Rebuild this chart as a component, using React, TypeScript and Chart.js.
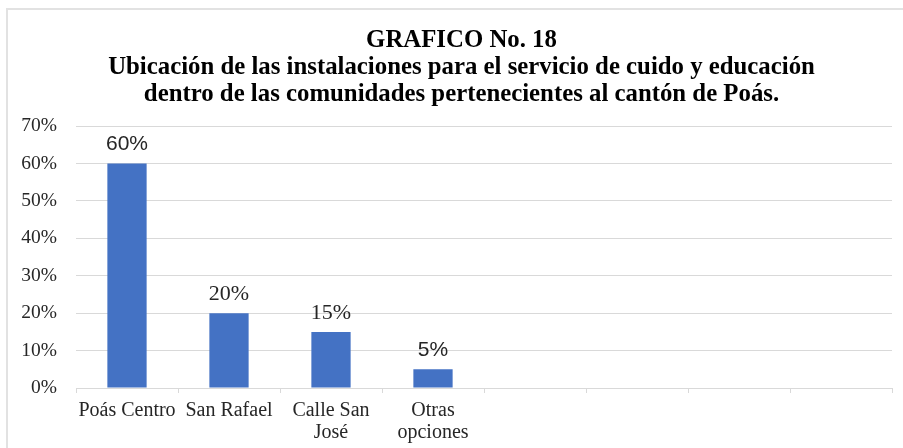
import React, { useEffect, useRef } from "react";
import { Chart, registerables } from "chart.js";

Chart.register(...registerables);

const titleLines = [
  "GRAFICO No. 18",
  "Ubicación de las instalaciones para el servicio de cuido y educación",
  "dentro de las comunidades pertenecientes al cantón de Poás.",
];
const categories: (string | string[])[] = [
  "Poás Centro",
  "San Rafael",
  ["Calle San", "José"],
  ["Otras", "opciones"],
  "",
  "",
  "",
  "",
];
const values: (number | null)[] = [60, 20, 15, 5, null, null, null, null];
const yMin = 0;
const yMax = 70;
const yStep = 10;
const labelFonts = [
  '21px "Liberation Sans"',
  '22px "Liberation Serif"',
  '22px "Liberation Serif"',
  '21px "Liberation Sans"',
];

const valueLabels = {
  id: "valueLabels",
  afterDatasetsDraw(chart: any) {
    const ctx = chart.ctx;
    const meta = chart.getDatasetMeta(0);
    ctx.save();
    ctx.fillStyle = "#262626";
    ctx.textAlign = "center";
    ctx.textBaseline = "middle";
    meta.data.forEach((el: any, i: number) => {
      const v = values[i];
      if (v === null || v === undefined) return;
      ctx.font = labelFonts[i] || labelFonts[0];
      ctx.fillText(v + "%", el.x, el.y - 19);
    });
    ctx.restore();
  },
};

// widen the y axis label area leftwards so its labels are not clipped
const widenYAxis = {
  id: "widenYAxis",
  afterLayout(chart: any) {
    const y = chart.scales.y;
    if (y) {
      y.left = 0;
      y.width = y.right - y.left;
    }
  },
};

export default function App() {
  const ref = useRef<HTMLCanvasElement | null>(null);
  useEffect(() => {
    if (!ref.current) return;
    const chart = new Chart(ref.current, {
      type: "bar",
      data: {
        labels: categories as any,
        datasets: [
          {
            data: values,
            backgroundColor: "#4472C4",
            borderWidth: 0,
            barPercentage: 0.385,
            categoryPercentage: 1,
          },
        ],
      },
      options: {
        animation: false,
        responsive: false,
        maintainAspectRatio: false,
        layout: { padding: { left: 31, right: 11, top: 0, bottom: 0 } },
        plugins: {
          legend: { display: false },
          tooltip: { enabled: false },
          title: {
            display: true,
            text: titleLines,
            color: "#000000",
            font: { family: '"Liberation Serif"', size: 24.8, weight: "bold", lineHeight: 1.09 },
            padding: { top: 27, bottom: 18 },
          },
        },
        scales: {
          x: {
            offset: true,
            afterFit(scale: any) {
              scale.height = scale.height - 3;
            },
            grid: {
              display: true,
              drawOnChartArea: false,
              drawTicks: true,
              tickLength: 5,
              color: "#d9d9d9",
              offset: true,
            },
            border: { display: true, color: "#d9d9d9" },
            ticks: {
              color: "#262626",
              padding: 7,
              autoSkip: false,
              maxRotation: 0,
              font: { family: '"Liberation Serif"', size: 20, lineHeight: 1.1 },
            },
          },
          y: {
            min: yMin,
            max: yMax,
            afterFit(scale: any) {
              scale.width = 45;
            },
            grid: { color: "#d9d9d9", drawTicks: false },
            border: { display: false },
            ticks: {
              stepSize: yStep,
              padding: 19,
              color: "#262626",
              font: { family: '"Liberation Serif"', size: 19.5 },
              callback: (v: any) => v + "%",
            },
          },
        },
      },
      plugins: [valueLabels, widenYAxis],
    });
    return () => chart.destroy();
  }, []);

  return (
    <div
      style={{
        position: "fixed",
        left: 0,
        top: 0,
        width: 903,
        height: 448,
        overflow: "hidden",
        background: "#ffffff",
      }}
    >
      <div
        style={{
          position: "absolute",
          left: 6,
          top: 8,
          width: 1000,
          height: 1000,
          border: "2px solid #e2e2e2",
        }}
      />
      <canvas
        ref={ref}
        width={903}
        height={448}
        style={{ position: "absolute", left: 0, top: 0, width: 903, height: 448 }}
      />
    </div>
  );
}
